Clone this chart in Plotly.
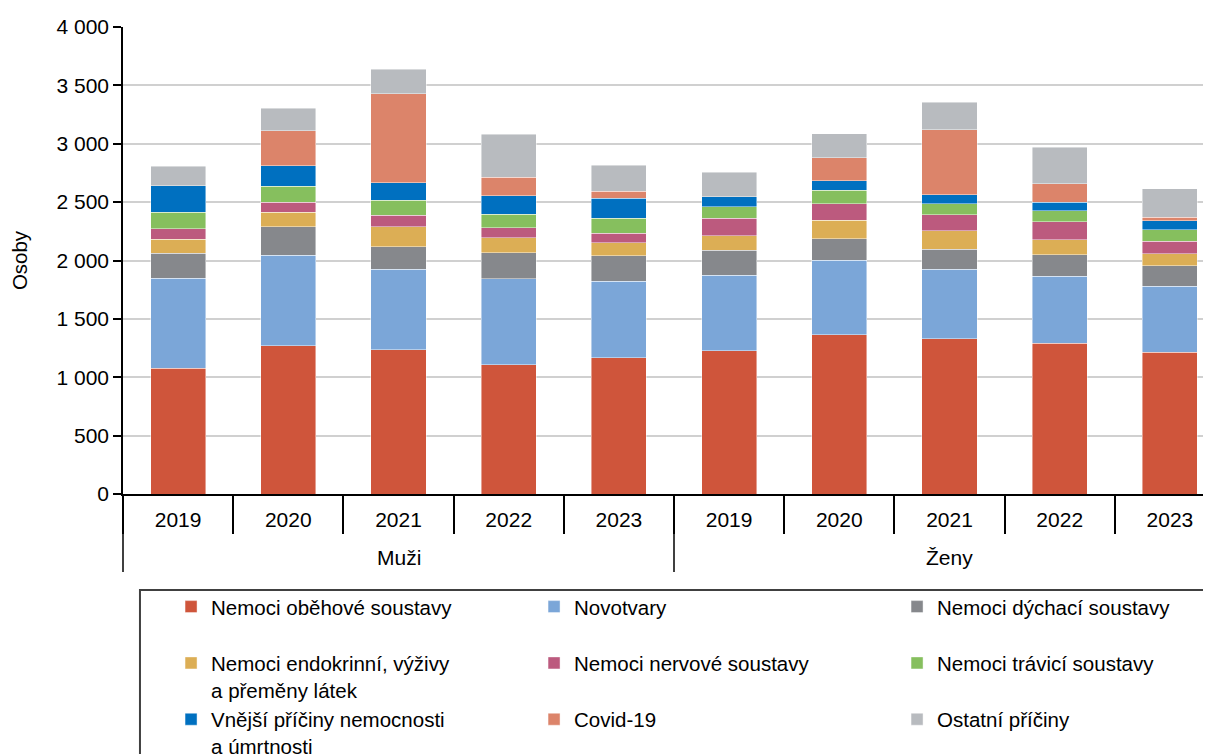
import plotly.graph_objects as go

# Kategorie na ose x (pohlaví a roky)
skupiny = ["Muži", "Ženy"]
pohlavi = ["Muži"] * 5 + ["Ženy"] * 5
roky = ["2019", "2020", "2021", "2022", "2023"] * 2
kategorie = [p + " " + r for p, r in zip(pohlavi, roky)]

# Hodnoty (osoby) podle příčin, nejdřív muži 2019-2023, potom ženy 2019-2023
obehova = [1078, 1270, 1236, 1106, 1168, 1225, 1362, 1328, 1290, 1215]
novotvary = [769, 777, 691, 738, 656, 648, 642, 599, 577, 564]
dychaci = [214, 242, 191, 223, 217, 214, 183, 171, 183, 176]
endokrinni = [120, 126, 169, 128, 111, 125, 157, 157, 126, 101]
nervova = [92, 86, 100, 86, 81, 149, 142, 137, 156, 108]
travici = [142, 134, 131, 117, 131, 100, 115, 92, 95, 100]
vnejsi = [226, 177, 148, 157, 169, 83, 80, 79, 74, 77]
covid = [0, 300, 763, 160, 60, 0, 199, 557, 157, 31]
ostatni = [166, 191, 211, 368, 225, 211, 206, 237, 311, 243]

nazvy = [
    "Nemoci oběhové soustavy<br> ",
    "Novotvary<br> ",
    "Nemoci dýchací soustavy<br> ",
    "Nemoci endokrinní, výživy<br>a přeměny látek",
    "Nemoci nervové soustavy<br> ",
    "Nemoci trávicí soustavy<br> ",
    "Vnější příčiny nemocnosti<br>a úmrtnosti",
    "Covid-19<br> ",
    "Ostatní příčiny<br> ",
]
serie = [obehova, novotvary, dychaci, endokrinni, nervova, travici, vnejsi, covid, ostatni]
barvy = ["#CF553B", "#7BA6D8", "#86888C", "#DCAE55", "#BC5A7E",
         "#86BF5E", "#0070C0", "#DC846A", "#B8BBBF"]

pismo = "Liberation Sans, Arial, sans-serif"

fig = go.Figure()

for nazev, hodnoty, barva in zip(nazvy, serie, barvy):
    fig.add_trace(go.Bar(
        x=kategorie,
        y=hodnoty,
        name=nazev,
        marker=dict(color=barva, line=dict(color="rgba(255,255,255,0.55)", width=0.8)),
    ))

# stránka má okraj 8 px, proto jsou okraje grafu o 8 px posunuté;
# v předloze plocha grafu přesahuje pravý okraj okna
fig.update_layout(
    barmode="stack",
    bargap=0.5,
    width=1217,
    height=754,
    margin=dict(l=115, r=0, t=19, b=268, autoexpand=False),
    paper_bgcolor="white",
    plot_bgcolor="white",
    separators=", ",
    font=dict(family=pismo, size=21, color="black"),
    showlegend=True,
    legend=dict(
        orientation="h",
        x=0.0436, xanchor="left",
        y=-0.1987, yanchor="top",
        entrywidth=318,
        traceorder="normal",
        valign="top",
        borderwidth=0,
        bgcolor="rgba(0,0,0,0)",
        font=dict(family=pismo, size=20.5, color="black"),
    ),
    xaxis=dict(
        type="category",
        tickvals=kategorie, ticktext=roky,
        showline=True, linecolor="black", linewidth=1.5,
        ticks="outside", tickson="boundaries", ticklen=38,
        tickcolor="black", tickwidth=1.5,
        ticklabelstandoff=6,
        showgrid=False,
        tickfont=dict(family=pismo, size=21, color="black"),
    ),
    yaxis=dict(
        range=[0, 4000], dtick=500,
        separatethousands=True,
        showline=True, linecolor="black", linewidth=1.5,
        ticks="outside", ticklen=8, tickcolor="black", tickwidth=1.5,
        showgrid=True, gridcolor="#D0D0D0", gridwidth=1.5,
        zeroline=False,
        tickfont=dict(family=pismo, size=21, color="black"),
        title=dict(text="Osoby", standoff=28, font=dict(family=pismo, size=20.5)),
        automargin=False,
    ),
)

# Druhá úroveň popisků osy x (pohlaví) a dělicí čáry mezi skupinami
hloubka = -78 / 467
for i, skupina in enumerate(skupiny):
    fig.add_annotation(
        x=(i + 0.5) / len(skupiny), xref="paper",
        y=-63 / 467, yref="paper",
        text=skupina, showarrow=False,
        xanchor="center", yanchor="middle",
        font=dict(family=pismo, size=21, color="black"),
    )
for i in range(len(skupiny) + 1):
    fig.add_shape(
        type="line", xref="paper", yref="paper",
        x0=i / len(skupiny), x1=i / len(skupiny), y0=0, y1=hloubka,
        line=dict(color="black", width=1.5),
    )

# Rámeček legendy (přesahuje pravý a dolní okraj jako v předloze)
fig.add_shape(
    type="rect", xref="paper", yref="paper",
    x0=0.0154, x1=1.05, y0=-0.2056, y1=-0.75,
    line=dict(color="#404040", width=2),
    fillcolor="rgba(0,0,0,0)",
    layer="above",
)

fig.write_html("out.html")
